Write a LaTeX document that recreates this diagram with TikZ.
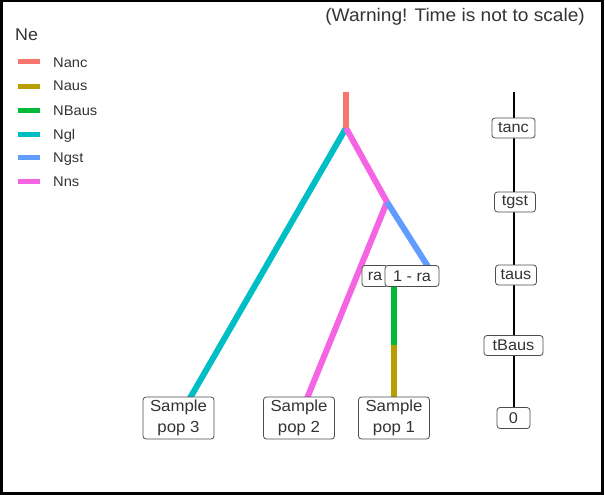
\documentclass[tikz,border=0pt]{standalone}
\usepackage{fontspec}
\setmainfont[FakeStretch=1.05]{Liberation Sans}
\definecolor{cNanc}{HTML}{F8766D}
\definecolor{cNaus}{HTML}{B79F00}
\definecolor{cNBaus}{HTML}{00BA38}
\definecolor{cNgl}{HTML}{00BFC4}
\definecolor{cNgst}{HTML}{619CFF}
\definecolor{cNns}{HTML}{F564E3}
\definecolor{txtgrey}{HTML}{333333}
\begin{document}
\begin{tikzpicture}[x=1pt,y=-1pt,
  branch/.style={line width=6pt, line cap=butt},
  legkey/.style={line width=5pt},
  legtxt/.style={anchor=base west, inner sep=0pt, text=txtgrey, font=\fontsize{14}{16}\selectfont},
  lbl/.style={draw=black!70, line width=0.8pt, rounded corners=3pt, fill=white, inner sep=0pt,
              minimum height=20pt, text=txtgrey, font=\fontsize{15.5}{18}\selectfont},
  samp/.style={lbl, minimum width=71pt, minimum height=42pt, align=center,
               font=\fontsize{16}{20.5}\selectfont}]
\useasboundingbox (0,0) rectangle (605,495);
\draw[line width=2.5pt] (1.25,1.25) rectangle (602.5,493.5);

% warning and legend
\node[anchor=base east, inner sep=0pt, text=txtgrey, font=\fontsize{18.2}{21}\selectfont] (warn) at (585,21.5) {(Warning! Time is not to scale)};
\node[anchor=base west, inner sep=0pt, text=txtgrey, font=\fontsize{17}{19}\selectfont] (ne) at (15,41) {Ne};
\foreach \c/\t/\y in {cNanc/Nanc/62, cNaus/Naus/86, cNBaus/NBaus/110, cNgl/Ngl/134, cNgst/Ngst/157, cNns/Nns/181}{
  \coordinate (k\t a) at (18,\y);
  \coordinate (k\t b) at (40,\y);
  \draw[legkey, \c] (k\t a) -- (k\t b);
  \node[legtxt] (l\t) at (53,\y+5) {\t};
}

% tree coordinates
\coordinate (top) at (346,92);
\coordinate (root) at (346,128);
\coordinate (gst) at (387,202);
\coordinate (adm) at (394,276);
\coordinate (bend) at (434,276);
\coordinate (raC) at (375,276);
\coordinate (oneraC) at (412,276);
\coordinate (baus) at (394,345);
\coordinate (p1) at (394,418);
\coordinate (p2) at (299,418);
\coordinate (p3) at (178.5,418);

% branches
\draw[branch, cNgl] (root) -- (p3);
\draw[branch, cNns] (root) -- (gst);
\draw[branch, cNns] (gst) -- (p2);
\draw[branch, cNgst] (gst) -- (bend);
\draw[branch, cNanc] (top) -- (root);
\draw[branch, cNBaus] (adm) -- (baus);
\draw[branch, cNaus] (baus) -- (p1);

% time axis
\coordinate (axtop) at (513.5,92);
\coordinate (ax0) at (513.5,418);
\draw[line width=2pt] (axtop) -- (ax0);
\node[lbl, minimum width=43pt] (tanc) at (513.5,128) {tanc};
\node[lbl, minimum width=41pt] (tgst) at (515,202) {tgst};
\node[lbl, minimum width=41pt] (taus) at (516,275) {taus};
\node[lbl, minimum width=59pt] (tBaus) at (513.5,345.5) {tBaus};
\node[lbl, minimum width=33pt, minimum height=21pt] (t0) at (513.5,418) {0};

% labels on tree
\node[lbl, minimum width=26pt, minimum height=21pt] (ra) at (raC) {ra};
\node[lbl, minimum width=54pt, minimum height=21pt] (onera) at (oneraC) {1 - ra};
\node[samp] (s3) at (p3) {Sample\\pop 3};
\node[samp] (s2) at (p2) {Sample\\pop 2};
\node[samp] (s1) at (p1) {Sample\\pop 1};
\end{tikzpicture}
\end{document}
